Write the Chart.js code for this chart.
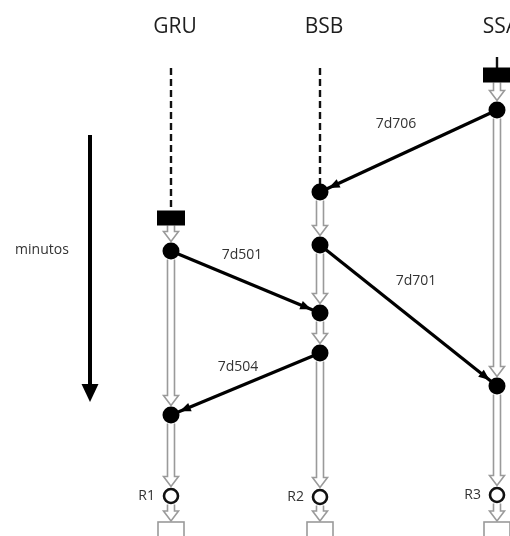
<!DOCTYPE html>
<html>
<head>
<meta charset="utf-8">
<script src="https://cdn.jsdelivr.net/npm/chart.js@4.4.0/dist/chart.umd.min.js"></script>
<style>
  html, body { margin: 0; padding: 0; background: #fff; overflow: hidden; }
  #wrap { width: 510px; height: 536px; position: relative; }
  #diagram { display: block; }
</style>
</head>
<body>
<div id="wrap"><canvas id="diagram"></canvas></div>
<script>
// stations (columns) and time (vertical, minutes going down)
const stations = ['GRU', 'BSB', 'SSA'];
const stationX = [171, 320, 497];
const resultLabels = ['R1', 'R2', 'R3'];

// idle period before first event
const waitStart = [68, 68, 57];
const waitEnd = [211, 186, 68];
const waitDashed = [true, true, false];

// start blocks
const blockStation = [0, 2];
const blockTime = [218, 75];

// events on each station
const nodeStation = [0, 0, 1, 1, 1, 1, 2, 2];
const nodeTime = [251, 415, 192, 245, 313, 353, 110, 386];

// flights between stations
const flightLabels = ['7d706', '7d501', '7d701', '7d504'];
const flightFrom = [2, 0, 1, 1];
const flightDep = [110, 251, 245, 353];
const flightTo = [1, 1, 2, 0];
const flightArr = [192, 313, 386, 415];

// end of horizon
const resultTime = [496, 497, 495];
const outputTime = [522, 522, 522];

// time arrow on the left
const timeArrowX = 90;
const timeArrowStart = 135;
const timeArrowEnd = 402;

const BLOCK_H = 15, NODE_R = 8.5, RES_R = 8.5;

const datasets = [];

stations.forEach((s, i) => {
    datasets.push({
        type: 'scatter', showLine: true, order: 5,
        data: [{ x: stationX[i], y: waitStart[i] }, { x: stationX[i], y: waitEnd[i] }],
        borderColor: '#111', borderWidth: 2.4,
        borderDash: waitDashed[i] ? [7, 4] : [],
        pointRadius: 0
    });
});

flightLabels.forEach((f, i) => {
    datasets.push({
        type: 'scatter', showLine: true, order: 4,
        data: [
            { x: stationX[flightFrom[i]], y: flightDep[i] },
            { x: stationX[flightTo[i]], y: flightArr[i] }
        ],
        borderColor: '#000', borderWidth: 3.2, pointRadius: 0
    });
});

datasets.push({
    type: 'scatter', showLine: true, order: 4,
    data: [{ x: timeArrowX, y: timeArrowStart }, { x: timeArrowX, y: timeArrowEnd - 14 }],
    borderColor: '#000', borderWidth: 4, pointRadius: 0
});

datasets.push({
    type: 'scatter', order: 1,
    data: nodeTime.map((t, i) => ({ x: stationX[nodeStation[i]], y: t })),
    pointRadius: NODE_R, pointBackgroundColor: '#000', pointBorderWidth: 0
});

datasets.push({
    type: 'scatter', order: 1,
    data: resultTime.map((t, i) => ({ x: stationX[i], y: t })),
    pointRadius: RES_R - 1.5, pointBackgroundColor: '#fff',
    pointBorderColor: '#111', pointBorderWidth: 2.6
});

const diagramPlugin = {
    id: 'diagram',
    beforeDatasetsDraw(chart) {
        const { ctx, scales: { x, y } } = chart;
        ctx.save();
        ctx.strokeStyle = '#9a9a9a';
        ctx.lineWidth = 1.6;
        ctx.fillStyle = '#fff';
        stations.forEach((s, i) => {
            const stops = [];
            blockStation.forEach((b, k) => {
                if (b === i) stops.push({ t: blockTime[k], h: BLOCK_H / 2 });
            });
            nodeStation.forEach((n, k) => {
                if (n === i) stops.push({ t: nodeTime[k], h: NODE_R });
            });
            stops.push({ t: resultTime[i], h: RES_R });
            stops.push({ t: outputTime[i], h: 0, box: true });
            stops.sort((a, b) => a.t - b.t);
            const px = x.getPixelForValue(stationX[i]);
            for (let k = 0; k < stops.length - 1; k++) {
                const a = stops[k], b = stops[k + 1];
                const y0 = y.getPixelForValue(a.t) + (a.box ? 0 : a.h);
                const y1 = y.getPixelForValue(b.t) - b.h - 1;
                const hw = 3.5, hh = 7.5;
                const hl = Math.min(10, y1 - y0);
                ctx.beginPath();
                ctx.moveTo(px - hw, y0);
                ctx.lineTo(px - hw, y1 - hl);
                ctx.lineTo(px - hh, y1 - hl);
                ctx.lineTo(px, y1);
                ctx.lineTo(px + hh, y1 - hl);
                ctx.lineTo(px + hw, y1 - hl);
                ctx.lineTo(px + hw, y0);
                ctx.stroke();
            }
            const by = y.getPixelForValue(outputTime[i]);
            ctx.fillRect(px - 13, by, 26, 30);
            ctx.strokeRect(px - 13, by, 26, 30);
        });
        ctx.restore();
    },
    afterDatasetsDraw(chart) {
        const { ctx, scales: { x, y } } = chart;
        ctx.save();
        ctx.fillStyle = '#000';
        // start blocks
        blockStation.forEach((b, k) => {
            const px = x.getPixelForValue(stationX[b]);
            const py = y.getPixelForValue(blockTime[k]);
            ctx.fillRect(px - 14, py - BLOCK_H / 2, 28, BLOCK_H);
        });
        // flight arrowheads
        flightLabels.forEach((f, i) => {
            const x0 = x.getPixelForValue(stationX[flightFrom[i]]);
            const y0 = y.getPixelForValue(flightDep[i]);
            const x1 = x.getPixelForValue(stationX[flightTo[i]]);
            const y1 = y.getPixelForValue(flightArr[i]);
            const len = Math.hypot(x1 - x0, y1 - y0);
            const ux = (x1 - x0) / len, uy = (y1 - y0) / len;
            const tx = x1 - ux * (NODE_R + 1), ty = y1 - uy * (NODE_R + 1);
            const bx = tx - ux * 11, by = ty - uy * 11;
            ctx.beginPath();
            ctx.moveTo(tx, ty);
            ctx.lineTo(bx - uy * 4.5, by + ux * 4.5);
            ctx.lineTo(bx + uy * 4.5, by - ux * 4.5);
            ctx.closePath();
            ctx.fill();
        });
        // time arrow head
        const ax = x.getPixelForValue(timeArrowX);
        const ay = y.getPixelForValue(timeArrowEnd);
        ctx.beginPath();
        ctx.moveTo(ax, ay);
        ctx.lineTo(ax - 8.5, ay - 18);
        ctx.lineTo(ax + 8.5, ay - 18);
        ctx.closePath();
        ctx.fill();

        // texts
        ctx.textAlign = 'center';
        ctx.textBaseline = 'middle';
        ctx.fillStyle = '#1e1e1e';
        ctx.font = '21px "Open Sans"';
        stations.forEach((s, i) => {
            ctx.fillText(s, x.getPixelForValue(stationX[i]) + 4, y.getPixelForValue(27));
        });
        ctx.fillStyle = '#333';
        ctx.font = '14px "Open Sans"';
        const labelPos = chart.options.plugins.diagram.flightLabelPos;
        flightLabels.forEach((f, i) => {
            ctx.fillText(f, x.getPixelForValue(labelPos[i][0]), y.getPixelForValue(labelPos[i][1]));
        });
        ctx.fillText('minutos', x.getPixelForValue(42), y.getPixelForValue(250));
        ctx.textAlign = 'right';
        resultLabels.forEach((r, i) => {
            ctx.fillText(r, x.getPixelForValue(stationX[i]) - 16, y.getPixelForValue(resultTime[i]));
        });
        ctx.restore();
    }
};

new Chart(document.getElementById('diagram'), {
    type: 'scatter',
    data: { datasets },
    plugins: [diagramPlugin],
    options: {
        responsive: true,
        maintainAspectRatio: false,
        animation: false,
        layout: { padding: 0, autoPadding: false },
        plugins: {
            legend: { display: false },
            tooltip: { enabled: false },
            diagram: {
                flightLabelPos: [[396, 124], [242, 255], [416, 281], [238, 367]]
            }
        },
        scales: {
            x: { type: 'linear', min: 0, max: 510, display: false },
            y: { type: 'linear', min: 0, max: 536, reverse: true, display: false }
        }
    }
});
</script>
</body>
</html>
